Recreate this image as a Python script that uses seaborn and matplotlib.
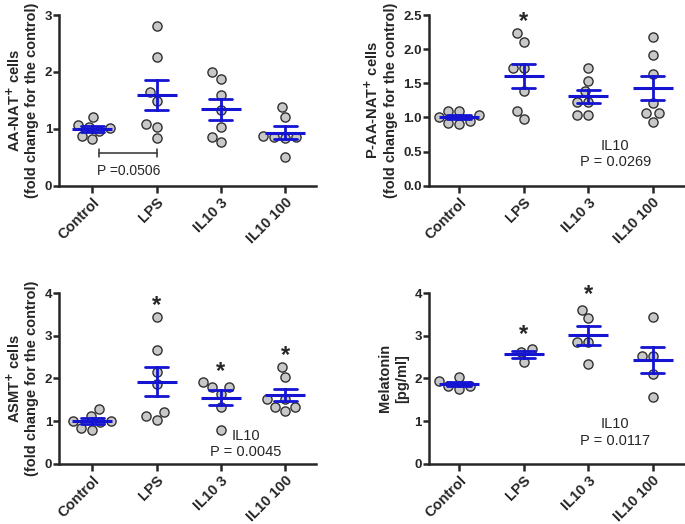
import numpy as np
import pandas as pd
import matplotlib
matplotlib.use("Agg")
import matplotlib.pyplot as plt
import seaborn as sns

groups = ["Control", "LPS", "IL10 3", "IL10 100"]

aanat_control = [1.21, 1.02, 1.06, 1.04, 0.82, 0.88, 0.97]
aanat_lps = [2.81, 2.27, 1.64, 1.49, 1.08, 1.03, 0.84]
aanat_il10_3 = [1.99, 1.87, 1.59, 1.33, 1.03, 0.86, 0.76]
aanat_il10_100 = [1.39, 1.21, 0.86, 0.84, 0.87, 0.85, 0.51]

paanat_control = [1.04, 1.10, 1.09, 1.00, 0.90, 0.92, 0.95]
paanat_lps = [2.23, 2.11, 1.72, 1.72, 1.39, 1.10, 0.98]
paanat_il10_3 = [1.72, 1.53, 1.38, 1.23, 1.23, 1.04, 1.04]
paanat_il10_100 = [2.18, 1.91, 1.64, 1.21, 1.07, 1.06, 0.94]

asmt_control = [1.28, 0.99, 1.12, 0.99, 0.80, 0.84, 0.98]
asmt_lps = [3.44, 2.67, 2.16, 1.86, 1.21, 1.11, 1.03]
asmt_il10_3 = [1.92, 1.80, 1.80, 1.64, 1.34, 0.78]
asmt_il10_100 = [2.27, 2.03, 1.52, 1.52, 1.34, 1.34, 1.24]

mel_control = [2.03, 1.94, 1.82, 1.82, 1.76]
mel_lps = [2.68, 2.62, 2.38]
mel_il10_3 = [3.61, 3.41, 2.85, 2.85, 2.34]
mel_il10_100 = [3.44, 2.52, 2.52, 2.11, 1.56]

ylabels = ["AA-NAT$^{+}$ cells\n(fold change for the control)",
           "P-AA-NAT$^{+}$ cells\n(fold change for the control)",
           "ASMT$^{+}$ cells\n(fold change for the control)",
           "Melatonin\n[pg/ml]"]

sns.set_style("ticks")
plt.rcParams["font.family"] = ["Liberation Sans", "DejaVu Sans"]
plt.rcParams["mathtext.default"] = "bf"

BLUE = "#1414d2"
fig = plt.figure(figsize=(6.85, 5.24), dpi=100)

W, H = 685.0, 524.0
def rect(l, r, t, b):
    return [l / W, 1 - b / H, (r - l) / W, (b - t) / H]

axes = [fig.add_axes(rect(59, 316, 15, 185.7)),
        fig.add_axes(rect(428.7, 685, 15, 185.7)),
        fig.add_axes(rect(59, 316, 293, 463.7)),
        fig.add_axes(rect(428.7, 685, 293, 463.7))]

data_sets = [[aanat_control, aanat_lps, aanat_il10_3, aanat_il10_100],
             [paanat_control, paanat_lps, paanat_il10_3, paanat_il10_100],
             [asmt_control, asmt_lps, asmt_il10_3, asmt_il10_100],
             [mel_control, mel_lps, mel_il10_3, mel_il10_100]]
ylims = [(0, 3), (0, 2.5), (0, 4), (0, 4)]
yticks = [[0, 1, 2, 3], [0, 0.5, 1.0, 1.5, 2.0, 2.5], [0, 1, 2, 3, 4], [0, 1, 2, 3, 4]]
xlims = [(-0.52, 3.48), (-0.47, 3.5), (-0.52, 3.48), (-0.47, 3.5)]

for i, ax in enumerate(axes):
    vals = data_sets[i]
    df = pd.DataFrame({"group": np.repeat(groups, [len(v) for v in vals]),
                       "value": np.concatenate(vals)})
    sns.swarmplot(data=df, x="group", y="value", order=groups, ax=ax, size=6.6,
                  color="#c8c8c8", edgecolor="#303030", linewidth=1.0, zorder=2)
    sns.pointplot(data=df, x="group", y="value", order=groups, ax=ax, errorbar="se",
                  capsize=0.36, color=BLUE, markers="_", markersize=29,
                  markeredgewidth=2.2, linestyle="none",
                  err_kws={"linewidth": 2.0}, zorder=3)
    ax.set_ylim(*ylims[i])
    ax.set_xlim(*xlims[i])
    ax.set_yticks(yticks[i])
    if i == 1:
        ax.set_yticklabels([f"{t:.1f}" for t in yticks[i]])
    ax.set_xlabel("")
    ax.set_ylabel(ylabels[i], fontweight="bold", fontsize=10.5, labelpad=4)
    for s in ["top", "right"]:
        ax.spines[s].set_visible(False)
    for s in ["left", "bottom"]:
        ax.spines[s].set_linewidth(1.8)
    ax.tick_params(axis="y", width=1.8, length=4, labelsize=9.5, pad=1)
    ax.tick_params(axis="x", width=1.8, length=5, labelsize=10.5, pad=2)
    for lab in ax.get_yticklabels():
        lab.set_fontweight("bold")
    for lab in ax.get_xticklabels():
        lab.set_fontweight("bold")
        lab.set_rotation(45)
        lab.set_ha("right")
        lab.set_rotation_mode("anchor")

star_kw = dict(ha="center", va="center", fontsize=17, fontweight="bold")
txt_kw = dict(ha="center", va="center", fontsize=10.5, linespacing=1.2)

# Panel A: bracket
ax = axes[0]
ax.plot([0.11, 1.0], [0.58, 0.58], color="#303030", lw=1.1)
ax.plot([0.11, 0.11], [0.51, 0.65], color="#303030", lw=1.1)
ax.plot([1.0, 1.0], [0.51, 0.65], color="#303030", lw=1.1)
ax.text(0.57, 0.25, "P =0.0506", ha="center", va="center", fontsize=10)

ax = axes[1]
ax.text(1, 2.40, "*", **star_kw)
ax.text(2.42, 0.46, "IL10\nP = 0.0269", **txt_kw)

ax = axes[2]
ax.text(1, 3.70, "*", **star_kw)
ax.text(2, 2.17, "*", **star_kw)
ax.text(3, 2.54, "*", **star_kw)
ax.text(2.39, 0.46, "IL10\nP = 0.0045", **txt_kw)

ax = axes[3]
ax.text(1, 3.02, "*", **star_kw)
ax.text(2, 3.97, "*", **star_kw)
ax.text(2.42, 0.73, "IL10\nP = 0.0117", **txt_kw)

fig.savefig("out.png", dpi=100)
